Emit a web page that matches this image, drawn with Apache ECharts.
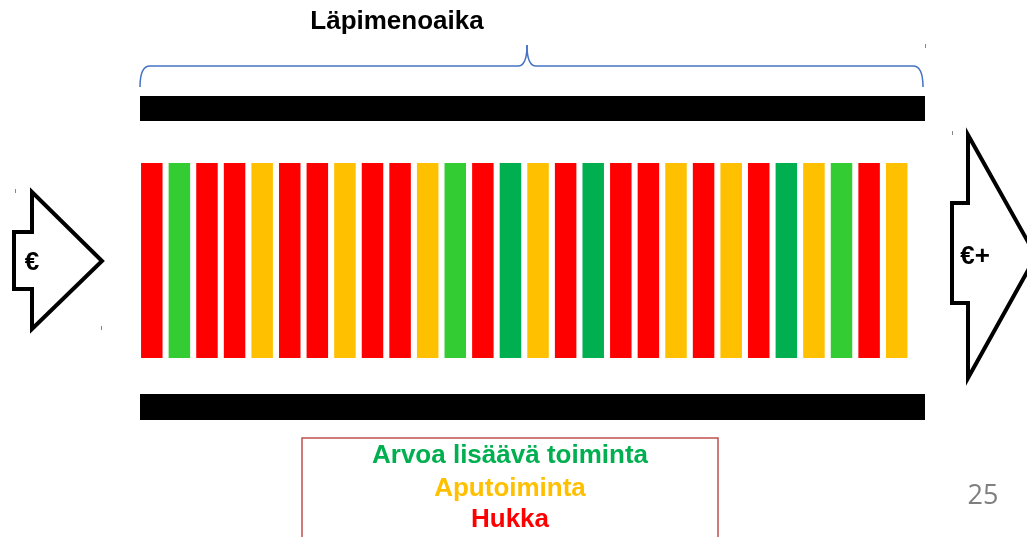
<!DOCTYPE html>
<html><head><meta charset="utf-8">
<script src="https://cdn.jsdelivr.net/npm/echarts@6/dist/echarts.min.js"></script>
<style>html,body{margin:0;padding:0;background:#fff}#c{width:1027px;height:537px}</style>
</head><body><div id="c"></div>
<script>
// Process steps (categories)
const steps = ['1','2','3','4','5','6','7','8','9','10','11','12','13','14','15','16','17','18','19','20','21','22','23','24','25','26','27','28'];
// Each step drawn at full height
const stepValues = [1,1,1,1,1,1,1,1,1,1,1,1,1,1,1,1,1,1,1,1,1,1,1,1,1,1,1,1];
// Step type: V = value adding (dark), V2 = value adding (light), A = support, H = waste
const stepTypes = ['H','V2','H','H','A','H','H','A','H','H','A','V2','H','V','A','H','V','H','H','A','H','A','H','V','A','V2','H','A'];
const typeColors = { V: '#00B050', V2: '#33CC33', A: '#FFC000', H: '#FF0000' };
// Legend texts
const legendLabels = ['Arvoa lisäävä toiminta', 'Aputoiminta', 'Hukka'];
const legendColors = ['#00B050', '#FFC000', '#FF0000'];
const titleText = 'Läpimenoaika';
const inText = '€';
const outText = '€+';
const pageNumber = '25';

const chart = echarts.init(document.getElementById('c'), null, { renderer: 'canvas' });
const FONT = '"Liberation Sans", Arial, sans-serif';
const braceStyle = { stroke: '#4472C4', lineWidth: 1.5, fill: null };

const graphics = [
  // title
  { type: 'text', x: 397, y: 22, style: { text: titleText, font: 'bold 26px ' + FONT, fill: '#000', textAlign: 'center', textVerticalAlign: 'middle' } },
  // brace
  { type: 'bezierCurve', shape: { x1: 140, y1: 87, cpx1: 140, cpy1: 66, x2: 150, y2: 66 }, style: braceStyle },
  { type: 'line', shape: { x1: 150, y1: 66, x2: 518, y2: 66 }, style: braceStyle },
  { type: 'bezierCurve', shape: { x1: 518, y1: 66, cpx1: 527, cpy1: 66, x2: 527, y2: 45 }, style: braceStyle },
  { type: 'bezierCurve', shape: { x1: 527, y1: 45, cpx1: 527, cpy1: 66, x2: 536, y2: 66 }, style: braceStyle },
  { type: 'line', shape: { x1: 536, y1: 66, x2: 913, y2: 66 }, style: braceStyle },
  { type: 'bezierCurve', shape: { x1: 913, y1: 66, cpx1: 923, cpy1: 66, x2: 923, y2: 87 }, style: braceStyle },
  // black bands
  { type: 'rect', shape: { x: 140, y: 96, width: 785, height: 25 }, style: { fill: '#000' } },
  { type: 'rect', shape: { x: 140, y: 394, width: 785, height: 26 }, style: { fill: '#000' } },
  // left arrow
  { type: 'polygon', shape: { points: [[32,192],[32,232],[14,232],[14,289],[32,289],[32,329],[102,261]] },
    style: { fill: '#fff', stroke: '#000', lineWidth: 4, lineJoin: 'miter' } },
  { type: 'text', x: 32, y: 263, z: 5, style: { text: inText, font: 'bold 26px ' + FONT, fill: '#000', textAlign: 'center', textVerticalAlign: 'middle' } },
  // right arrow
  { type: 'polygon', shape: { points: [[968,135],[968,203],[952,203],[952,303],[968,303],[968,378],[1036,256]] },
    style: { fill: '#fff', stroke: '#000', lineWidth: 4, lineJoin: 'miter' } },
  { type: 'text', x: 975, y: 257, z: 5, style: { text: outText, font: 'bold 26px ' + FONT, fill: '#000', textAlign: 'center', textVerticalAlign: 'middle' } },
  // tiny marks
  { type: 'rect', shape: { x: 15, y: 189, width: 1, height: 4 }, style: { fill: '#888' } },
  { type: 'rect', shape: { x: 101, y: 326, width: 1, height: 4 }, style: { fill: '#888' } },
  { type: 'rect', shape: { x: 925, y: 44, width: 1, height: 4 }, style: { fill: '#888' } },
  { type: 'rect', shape: { x: 952, y: 131, width: 1, height: 4 }, style: { fill: '#888' } },
  // legend box
  { type: 'rect', shape: { x: 302, y: 438, width: 416, height: 110 }, style: { fill: '#fff', stroke: '#C0504D', lineWidth: 1.5 } },
  // page number
  { type: 'text', x: 983, y: 496, style: { text: pageNumber, font: '27px "Open Sans", ' + FONT, fill: '#7F7F7F', textAlign: 'center', textVerticalAlign: 'middle' } }
];
const legendY = [456, 489, 520];
legendLabels.forEach((t, i) => {
  graphics.push({ type: 'text', x: 510, y: legendY[i], z: 10,
    style: { text: t, font: 'bold 26px ' + FONT, fill: legendColors[i], textAlign: 'center', textVerticalAlign: 'middle' } });
});

chart.setOption({
  animation: false,
  backgroundColor: '#fff',
  grid: { left: 138, right: 116.5, top: 163, bottom: 179 },
  xAxis: { type: 'category', data: steps, show: false },
  yAxis: { type: 'value', min: 0, max: 1, show: false },
  series: [{
    type: 'bar',
    barWidth: 21.5,
    data: stepValues.map((v, i) => ({ value: v, itemStyle: { color: typeColors[stepTypes[i]] } })),
    silent: true
  }],
  graphic: graphics
});
</script></body></html>
